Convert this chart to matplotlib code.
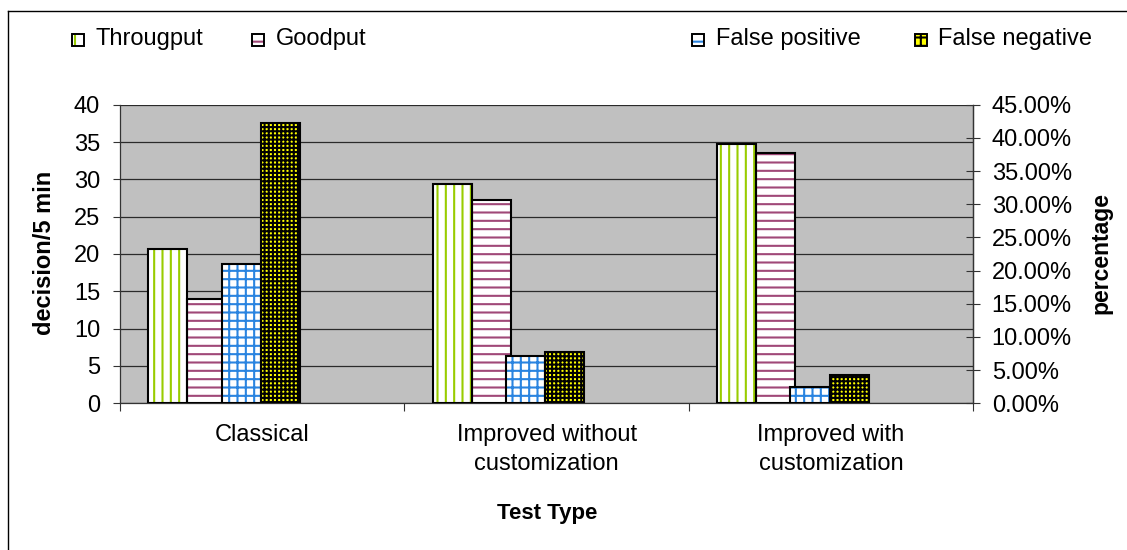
import matplotlib
matplotlib.use("Agg")
import matplotlib.pyplot as plt
from matplotlib.patches import Rectangle
from matplotlib.lines import Line2D
from matplotlib.ticker import FuncFormatter
import numpy as np

# ---- data ----
categories = ["Classical", "Improved without\ncustomization", "Improved with\ncustomization"]
throughput = [20.7, 29.4, 34.8]        # decision / 5 min (left axis)
goodput = [14.0, 27.3, 33.5]           # decision / 5 min (left axis)
false_positive = [21.0, 7.1, 2.5]      # percent (right axis)
false_negative = [42.2, 7.7, 4.2]      # percent (right axis)
left_ticks = [0, 5, 10, 15, 20, 25, 30, 35, 40]
right_ticks = [0, 5, 10, 15, 20, 25, 30, 35, 40, 45]
series_names = ["Througput", "Goodput", "False positive", "False negative"]

# ---- style ----
plt.rcParams['font.family'] = ['Liberation Sans', 'DejaVu Sans']
plt.rcParams['hatch.linewidth'] = 1.5
W, H = 1127, 550
FS = 17
hatch_colors = ["#99cc00", "#a04878", "#2a84e0", "#000000"]
face_colors = ["white", "white", "white", "#ffff00"]
hatches = ["||", "--", "++", "++++"]
legend_hatches = ["|", "-", "+", "++"]
offsets = [0.099, 0.236, 0.357, 0.495]
width = 0.138

fig = plt.figure(figsize=(W / 100, H / 100), dpi=100)
ax = fig.add_axes([120 / W, 1 - 403.3 / H, (973.3 - 120) / W, (403.3 - 104.7) / H])
ax.set_facecolor("#c0c0c0")
ax2 = ax.twinx()

x = np.arange(len(categories))


def draw_bars(axis, xs, vals, i):
    axis.bar(xs, vals, width=width, align='edge', color=face_colors[i],
             edgecolor=hatch_colors[i], hatch=hatches[i], linewidth=0, zorder=3)
    axis.bar(xs, vals, width=width, align='edge', color='none',
             edgecolor='black', linewidth=1.5, zorder=4)


draw_bars(ax, x + offsets[0], throughput, 0)
draw_bars(ax, x + offsets[1], goodput, 1)
draw_bars(ax2, x + offsets[2], false_positive, 2)
draw_bars(ax2, x + offsets[3], false_negative, 3)

ax.set_xlim(0, len(categories))
ax.set_ylim(0, 40)
ax2.set_ylim(0, 45)

ax.set_yticks(left_ticks)
ax.set_yticklabels([str(t) for t in left_ticks])
ax.yaxis.grid(True, color="#2a2a2a", linewidth=0.9, zorder=1)
ax.set_axisbelow(True)
ax.tick_params(axis='y', direction='out', length=5, width=0.8, pad=9.4,
               labelsize=FS, color="#333333")

ax2.set_yticks(right_ticks)
ax2.yaxis.set_major_formatter(FuncFormatter(lambda v, p: f"{v:.2f}%"))
ax2.tick_params(axis='y', direction='inout', length=10, width=0.8, pad=8.2,
                labelsize=FS, color="#333333")

ax.set_xticks(np.arange(len(categories) + 1))
ax.set_xticklabels([])
ax.tick_params(axis='x', which='major', direction='out', length=6, width=0.8, color="#333333")
ax.set_xticks(x + 0.5, minor=True)
ax.set_xticklabels(categories, minor=True, fontsize=FS, linespacing=1.43,
                   multialignment='center')
ax.tick_params(axis='x', which='minor', length=0, pad=15)

for a in (ax, ax2):
    a.spines['top'].set_visible(False)
    for s in ('left', 'right', 'bottom'):
        a.spines[s].set_color("#333333")
        a.spines[s].set_linewidth(0.9)
ax2.spines['left'].set_visible(False)
ax2.spines['bottom'].set_visible(False)
ax2.patch.set_visible(False)

# axis titles
fig.text(45 / W, 1 - 252.5 / H, "decision/5 min", rotation=90, ha='center', va='center',
         fontsize=FS, fontweight='bold')
fig.text(1101 / W, 1 - 253.5 / H, "percentage", rotation=90, ha='center', va='center',
         fontsize=16.5, fontweight='bold')
fig.text(547 / W, 1 - 514 / H, "Test Type", ha='center', va='center',
         fontsize=16, fontweight='bold')

# legend
marker_x = [72, 252, 692, 915]
text_x = [96, 276, 716, 938]
for i, name in enumerate(series_names):
    fig.add_artist(Rectangle((marker_x[i] / W, 1 - 46 / H), 12 / W, 12 / H,
                             transform=fig.transFigure, facecolor=face_colors[i],
                             edgecolor=hatch_colors[i], hatch=legend_hatches[i],
                             linewidth=0))
    fig.add_artist(Rectangle((marker_x[i] / W, 1 - 46 / H), 12 / W, 12 / H,
                             transform=fig.transFigure, facecolor='none',
                             edgecolor='black', linewidth=1.4))
    fig.text(text_x[i] / W, 1 - 39 / H, name, ha='left', va='center', fontsize=FS)

# chart frame (top and left edges visible)
fig.add_artist(Line2D([8 / W, 1.0], [1 - 11 / H, 1 - 11 / H], transform=fig.transFigure,
                      color='black', linewidth=1))
fig.add_artist(Line2D([8 / W, 8 / W], [0, 1 - 11 / H], transform=fig.transFigure,
                      color='black', linewidth=1))

fig.savefig("out.png", dpi=100)
